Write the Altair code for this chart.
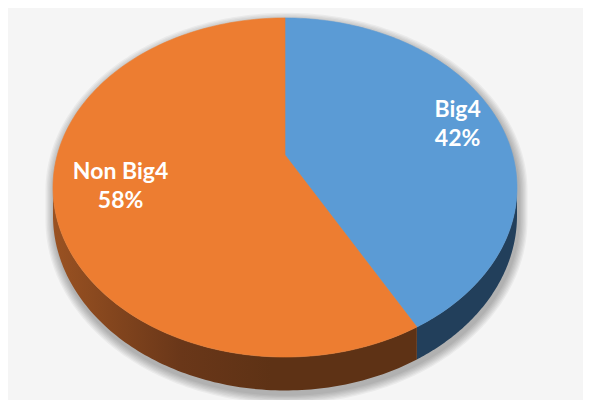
import altair as alt
import numpy as np
import pandas as pd

# ---- data ----
categories = ["Big4", "Non Big4"]
shares = [42, 58]
pct_labels = ["42%", "58%"]
top_colors = ["#5B9BD5", "#ED7D31"]
side_colors = ["#223F5B", "#6A3718"]

# ---- geometry of the tilted (perspective) pie, in page pixels ----
CX, CY = 285.0, 155.0      # pie centre on the top face
A, B, K = 227.7, 163.3, 0.1918
DEPTH = 27.0
label_radius = [0.82, 0.71]

T_LO = np.degrees(np.arccos(-K))   # left/right silhouette tangents
T_HI = 360.0 - T_LO


def rim(t_deg, drop=0.0):
    t = np.radians(np.asarray(t_deg, dtype=float))
    w = 1 + K * np.cos(t)
    return CX + A * np.sin(t) / w, CY - B * np.cos(t) / w + drop / w


rows = []


def add_poly(name, xs, ys):
    for i, (x, y) in enumerate(zip(xs, ys)):
        rows.append({"poly": name, "i": i, "x": float(x), "y": float(y)})


total = float(sum(shares))
starts = np.cumsum([0] + shares[:-1]) / total * 360.0
ends = np.cumsum(shares) / total * 360.0

# shadow (expanded silhouettes)
ts_top = np.linspace(T_HI, 360 + T_LO, 200)
ts_bot = np.linspace(T_LO, T_HI, 200)
xt, yt = rim(ts_top)
xb, yb = rim(ts_bot, DEPTH)
sx = np.concatenate([xt, xb])
sy = np.concatenate([yt, yb])
c0x, c0y = 285.0, 205.0
shadow_n = 7
for e in range(1, shadow_n + 1):
    fx = 1 + e * 1.3 / 233
    fy = 1 + e * 1.3 / 185
    add_poly(f"shadow{e}", c0x + (sx - c0x) * fx + 1.5, c0y + (sy - c0y) * fy + 4)

for j, cat in enumerate(categories):
    a0, a1 = starts[j], ends[j]
    # top face
    ts = np.linspace(a0, a1, 160)
    x, y = rim(ts)
    add_poly(f"top{j}", np.concatenate([[CX], x, [CX]]), np.concatenate([[CY], y, [CY]]))
    # visible side
    lo, hi = max(a0, T_LO), min(a1, T_HI)
    if lo < hi:
        ts = np.linspace(lo, hi, 120)
        x1, y1 = rim(ts)
        x2, y2 = rim(ts[::-1], DEPTH)
        add_poly(f"side{j}", np.concatenate([x1, x2]), np.concatenate([y1, y2]))

df = pd.DataFrame(rows)

# labels
lab = []
for j, cat in enumerate(categories):
    mid = np.radians((starts[j] + ends[j]) / 2)
    w = 1 + K * np.cos(mid)
    f = label_radius[j]
    lab.append({"name": cat, "pct": pct_labels[j],
                "x": CX + f * A * np.sin(mid) / w,
                "y": CY - f * B * np.cos(mid) / w})
lab_df = pd.DataFrame(lab)

xs = alt.X("x:Q", scale=alt.Scale(domain=[8, 583], nice=False, zero=False), axis=None)
ys = alt.Y("y:Q", scale=alt.Scale(domain=[400, 8], nice=False, zero=False), axis=None)

base = alt.Chart(df).encode(x=xs, y=ys, order="i:Q")

layers = []
for e in range(shadow_n, 0, -1):
    layers.append(base.transform_filter(alt.datum.poly == f"shadow{e}")
                  .mark_line(fill="#000000", fillOpacity=0.045, strokeWidth=0, stroke="transparent"))

orange_grad = alt.Gradient(
    gradient="linear",
    stops=[alt.GradientStop(color="#9A5222", offset=0),
           alt.GradientStop(color="#6A3719", offset=0.35),
           alt.GradientStop(color="#5E3215", offset=0.6),
           alt.GradientStop(color="#5E3215", offset=1)],
    x1=0, x2=1, y1=0, y2=0)

for j in range(len(categories)):
    fill = side_colors[j] if j == 0 else orange_grad
    layers.append(base.transform_filter(alt.datum.poly == f"side{j}")
                  .mark_line(fill=fill, stroke="transparent", strokeWidth=0))
for j in range(len(categories)):
    layers.append(base.transform_filter(alt.datum.poly == f"top{j}")
                  .mark_line(fill=top_colors[j], stroke=top_colors[j], strokeWidth=0.6))

tbase = alt.Chart(lab_df).encode(x=xs, y=ys)
layers.append(tbase.mark_text(font="Lato", fontSize=23, fontWeight="bold", color="white",
                              baseline="middle", dy=-13).encode(text="name:N"))
layers.append(tbase.mark_text(font="Lato", fontSize=23, fontWeight="bold", color="white",
                              baseline="middle", dy=16).encode(text="pct:N"))

chart = alt.layer(*layers).properties(
    width=575, height=392, padding=0, background="#F5F5F5",
    autosize=alt.AutoSizeParams(type="none"),
).configure_view(stroke=None)

chart.save("out.html", embed_options={"renderer": "svg", "actions": False})
